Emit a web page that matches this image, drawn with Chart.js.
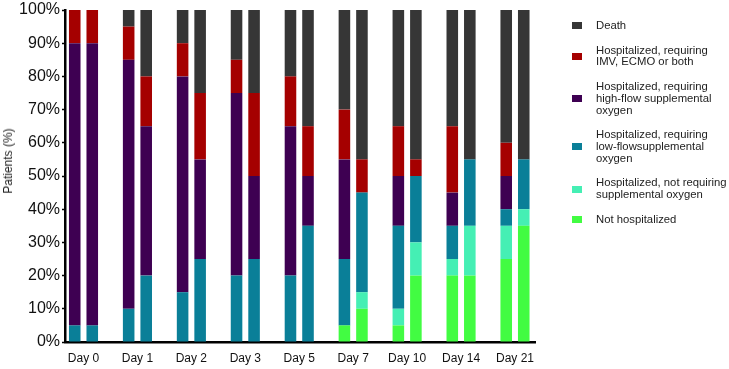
<!DOCTYPE html>
<html>
<head>
<meta charset="utf-8">
<script src="https://cdn.jsdelivr.net/npm/chart.js@4"></script>
<style>
  body { margin: 0; background: #fff; }
  #wrap { position: relative; width: 729px; height: 369px; }
  #legend { position: absolute; left: 572px; top: 20px; font-family: "Liberation Sans", Arial, sans-serif; font-size: 11.3px; line-height: 11.7px; color: #222; }
  .item { display: flex; align-items: center; margin-bottom: 13px; }
  .box { width: 10px; height: 7px; margin-right: 14px; flex: none; }
  #ytitle { position: absolute; left: 8px; top: 161px; transform: translate(-50%, -50%) rotate(-90deg); white-space: nowrap; font-family: "Liberation Sans", Arial, sans-serif; font-size: 12px; color: #222; }
</style>
</head>
<body>
<div id="wrap">
  <canvas id="chart" width="729" height="369"></canvas>
  <div id="ytitle">Patients (%)</div>
  <div id="legend"></div>
</div>
<script>
var days = ['Day 0', 'Day 1', 'Day 2', 'Day 3', 'Day 5', 'Day 7', 'Day 10', 'Day 14', 'Day 21'];
var yTicks = [0, 10, 20, 30, 40, 50, 60, 70, 80, 90, 100];

// bottom to top of each bar
var seriesNames = [
  'Not hospitalized',
  'Hospitalized, not requiring<br>supplemental oxygen',
  'Hospitalized, requiring<br>low-flowsupplemental<br>oxygen',
  'Hospitalized, requiring<br>high-flow supplemental<br>oxygen',
  'Hospitalized, requiring<br>IMV, ECMO or both',
  'Death'
];
var seriesColors = ['#42fc42', '#45efb4', '#0a7f98', '#3e0052', '#a50000', '#363636'];

// left bar of each day
var notHospA  = [0, 0, 0, 0, 0, 5, 5, 20, 25];
var noOxyA    = [0, 0, 0, 0, 0, 0, 5, 5, 10];
var lowFlowA  = [5, 10, 15, 20, 20, 20, 25, 10, 5];
var highFlowA = [85, 75, 65, 55, 45, 30, 15, 10, 10];
var imvA      = [10, 10, 10, 10, 15, 15, 15, 20, 10];
var deathA    = [0, 5, 10, 15, 20, 30, 35, 35, 40];

// right bar of each day
var notHospB  = [0, 0, 0, 0, 0, 10, 20, 20, 35];
var noOxyB    = [0, 0, 0, 0, 0, 5, 10, 15, 5];
var lowFlowB  = [5, 20, 25, 25, 35, 30, 20, 20, 15];
var highFlowB = [85, 45, 30, 25, 15, 0, 0, 0, 0];
var imvB      = [10, 15, 20, 25, 15, 10, 5, 0, 0];
var deathB    = [0, 20, 25, 25, 35, 45, 45, 45, 45];

var groupA = [notHospA, noOxyA, lowFlowA, highFlowA, imvA, deathA];
var groupB = [notHospB, noOxyB, lowFlowB, highFlowB, imvB, deathB];

function points(arr) {
  return arr.map(function (v, i) { return {x: i, y: v}; });
}

var datasets = [];
[['A', groupA], ['B', groupB]].forEach(function (g) {
  g[1].forEach(function (arr, k) {
    datasets.push({
      label: seriesNames[k],
      stack: g[0],
      data: points(arr),
      backgroundColor: seriesColors[k],
      borderWidth: 0,
      barPercentage: 0.66,
      categoryPercentage: 0.65
    });
  });
});

var ctx = document.getElementById('chart').getContext('2d');
var myChart = new Chart(ctx, {
  type: 'bar',
  data: { datasets: datasets },
  options: {
    responsive: false,
    animation: false,
    devicePixelRatio: 1,
    layout: { padding: { left: 0, right: 194, top: 9, bottom: 0 } },
    plugins: { legend: { display: false }, tooltip: { enabled: false } },
    scales: {
      x: {
        type: 'linear',
        stacked: true,
        offset: false,
        min: -0.343,
        max: 8.371,
        afterBuildTicks: function (scale) {
          scale.ticks = days.map(function (d, i) { return {value: i}; });
        },
        afterFit: function (scale) { scale.height = 27; },
        grid: { display: false, drawTicks: false },
        border: { display: true, color: '#000', width: 2.5 },
        ticks: {
          padding: 9,
          maxRotation: 0,
          autoSkip: false,
          color: '#111',
          font: { family: '"Liberation Sans", Arial, sans-serif', size: 12 },
          callback: function (v) { return days[v]; }
        }
      },
      y: {
        stacked: true,
        min: 0,
        max: 100,
        afterBuildTicks: function (scale) {
          scale.ticks = yTicks.map(function (v) { return {value: v}; });
        },
        afterFit: function (scale) { scale.width = 65; },
        grid: { drawOnChartArea: false, drawTicks: true, tickLength: 3, tickColor: '#000', tickWidth: 1.5 },
        border: { display: true, color: '#000', width: 2.5 },
        ticks: {
          padding: 2,
          color: '#111',
          font: { family: '"Liberation Sans", Arial, sans-serif', size: 16, lineHeight: 1 },
          callback: function (v) { return v + '%'; }
        }
      }
    }
  }
});

// legend, top entry first
var legend = document.getElementById('legend');
for (var k = seriesNames.length - 1; k >= 0; k--) {
  var item = document.createElement('div');
  item.className = 'item';
  item.innerHTML = '<span class="box" style="background:' + seriesColors[k] + '"></span><span>' + seriesNames[k] + '</span>';
  legend.appendChild(item);
}
</script>
</body>
</html>
